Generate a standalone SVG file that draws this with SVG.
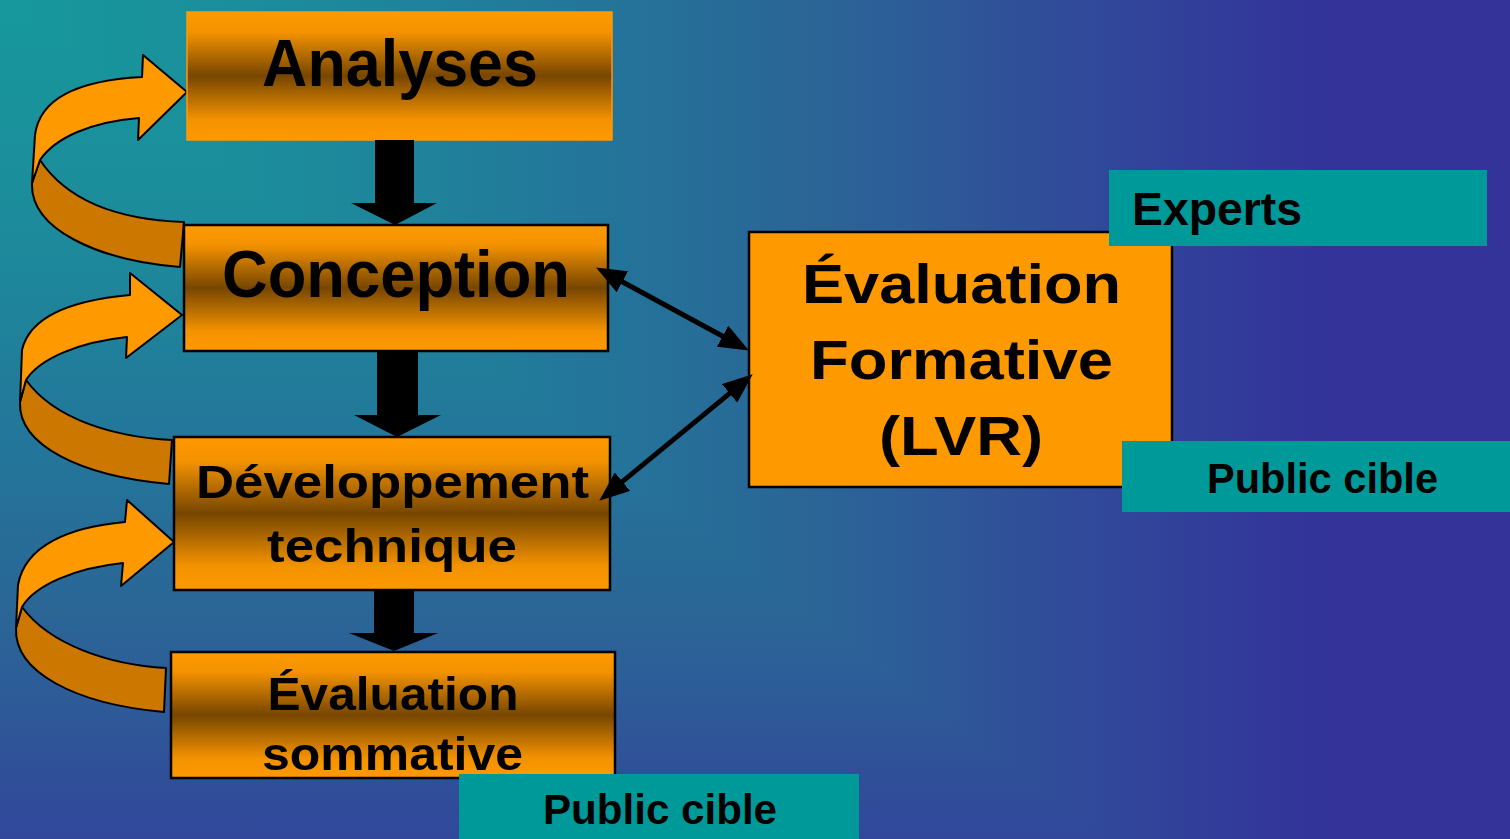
<svg xmlns="http://www.w3.org/2000/svg" width="1510" height="839" viewBox="0 0 1510 839">
  <defs>
    <linearGradient id="gx" gradientUnits="userSpaceOnUse" x1="0" y1="0" x2="1330" y2="0">
      <stop offset="0" stop-color="#16999c"/>
      <stop offset="0.25" stop-color="#1d899b"/>
      <stop offset="0.47" stop-color="#24739a"/>
      <stop offset="0.6" stop-color="#2a6696"/>
      <stop offset="0.68" stop-color="#2d5d98"/>
      <stop offset="0.75" stop-color="#2f5298"/>
      <stop offset="0.83" stop-color="#31489a"/>
      <stop offset="0.94" stop-color="#32399a"/>
      <stop offset="1" stop-color="#333399"/>
    </linearGradient>
    <linearGradient id="gy" gradientUnits="userSpaceOnUse" x1="0" y1="0" x2="0" y2="1010">
      <stop offset="0" stop-color="#16999c"/>
      <stop offset="0.25" stop-color="#1d899b"/>
      <stop offset="0.47" stop-color="#24739a"/>
      <stop offset="0.6" stop-color="#2a6696"/>
      <stop offset="0.68" stop-color="#2d5d98"/>
      <stop offset="0.75" stop-color="#2f5298"/>
      <stop offset="0.83" stop-color="#31489a"/>
      <stop offset="0.94" stop-color="#32399a"/>
      <stop offset="1" stop-color="#333399"/>
    </linearGradient>
    <linearGradient id="boxg" x1="0" y1="0" x2="0" y2="1">
      <stop offset="0" stop-color="#ff9900"/>
      <stop offset="0.16" stop-color="#f39200"/>
      <stop offset="0.5" stop-color="#774600"/>
      <stop offset="0.84" stop-color="#f39200"/>
      <stop offset="1" stop-color="#ff9900"/>
    </linearGradient>
    <marker id="ah" viewBox="0 0 30 24" markerUnits="userSpaceOnUse" markerWidth="30" markerHeight="24" refX="17" refY="12" orient="auto-start-reverse">
      <path d="M0,0 L30,12 L0,24 Z" fill="#000"/>
    </marker>
    <style>
      .box { fill: url(#boxg); stroke: #000; stroke-width: 2.5; }
      .solid { fill: #ff9900; stroke: #000; stroke-width: 2.5; }
      .tag { fill: #009999; }
      .t { font-family: "Liberation Sans", Arial, sans-serif; font-weight: bold; fill: #000; text-anchor: middle; }
      .lite { fill: #ff9900; stroke: #000; stroke-width: 2; stroke-linejoin: round; }
      .dark { fill: #cc7700; stroke: #000; stroke-width: 2; stroke-linejoin: round; }
      .link { stroke: #000; stroke-width: 5; fill: none; }
      .block { fill: #000; }
    </style>
  </defs>

  <rect x="0" y="0" width="1510" height="839" fill="url(#gx)"/>
  <polygon points="0,0 1105,839 0,839" fill="url(#gy)"/>

  <g id="loops">
    <g id="loop1">
      <path class="dark" d="M40,160 C70,205 125,220 184,222 L180,267 C95,260 30,228 32,183 Z"/>
      <path class="lite" d="M32,183 L35,135 C40,95 85,80 142,77 L143,55 L187,92 L138,140 L139,118 C90,122 55,138 40,160 Z"/>
    </g>
    <g id="loop2">
      <path class="dark" d="M26,380 C55,420 115,437 172,440 L169,484 C80,476 18,445 20,402 Z"/>
      <path class="lite" d="M20,402 L22,350 C30,315 75,300 130,295 L130,273 L182,315 L126,358 L127,337 C80,342 40,358 26,380 Z"/>
    </g>
    <g id="loop3">
      <path class="dark" d="M22,607 C50,645 110,665 166,668 L164,712 C75,704 14,672 16,628 Z"/>
      <path class="lite" d="M16,628 L18,585 C25,545 70,527 125,522 L127,500 L174,542 L121,586 L123,563 C75,568 35,585 22,607 Z"/>
    </g>
  </g>

  <g id="analyses">
    <rect x="187" y="12" width="425" height="128" fill="url(#boxg)" stroke="#ff9900" stroke-width="1.5"/>
    <text class="t" x="400" y="86" font-size="67" textLength="276" lengthAdjust="spacingAndGlyphs">Analyses</text>
  </g>

  <g id="conception">
    <rect class="box" x="184" y="225" width="424" height="126"/>
    <text class="t" x="396" y="297" font-size="66" textLength="348" lengthAdjust="spacingAndGlyphs">Conception</text>
  </g>

  <g id="developpement">
    <rect class="box" x="174" y="437" width="436" height="153"/>
    <text class="t" x="392.5" y="498" font-size="47" textLength="393" lengthAdjust="spacingAndGlyphs">Développement</text>
    <text class="t" x="392" y="562" font-size="47" textLength="250" lengthAdjust="spacingAndGlyphs">technique</text>
  </g>

  <g id="sommative">
    <rect class="box" x="171" y="652" width="444" height="126"/>
    <text class="t" x="393" y="710" font-size="47" textLength="251" lengthAdjust="spacingAndGlyphs">Évaluation</text>
    <text class="t" x="392.5" y="770" font-size="47" textLength="261" lengthAdjust="spacingAndGlyphs">sommative</text>
  </g>

  <g id="formative">
    <rect class="solid" x="749" y="232" width="423" height="255"/>
    <text class="t" x="961.5" y="303" font-size="56" textLength="319" lengthAdjust="spacingAndGlyphs">Évaluation</text>
    <text class="t" x="961.5" y="379" font-size="56" textLength="303" lengthAdjust="spacingAndGlyphs">Formative</text>
    <text class="t" x="961" y="455" font-size="56" textLength="164" lengthAdjust="spacingAndGlyphs">(LVR)</text>
  </g>

  <g id="experts">
    <rect class="tag" x="1109" y="170" width="378" height="76"/>
    <text class="t" x="1132" y="225" font-size="46" style="text-anchor:start" textLength="170" lengthAdjust="spacingAndGlyphs">Experts</text>
  </g>

  <g id="public-right">
    <rect class="tag" x="1122" y="441" width="388" height="71"/>
    <text class="t" x="1322.5" y="493" font-size="42" textLength="231" lengthAdjust="spacingAndGlyphs">Public cible</text>
  </g>

  <g id="public-bottom">
    <rect class="tag" x="459" y="774" width="400" height="65"/>
    <text class="t" x="660" y="824" font-size="42" textLength="234" lengthAdjust="spacingAndGlyphs">Public cible</text>
  </g>

  <g id="connectors">
    <path class="block" d="M375,140 L414,140 L414,203 L437,203 L395,225 L351,203 L375,203 Z"/>
    <path class="block" d="M377,351 L418,351 L418,415 L441,415 L397,437 L354,415 L377,415 Z"/>
    <path class="block" d="M374,590 L414,590 L414,633 L438,633 L394,651 L349,633 L374,633 Z"/>
    <line class="link" x1="607.5" y1="273.7" x2="737.5" y2="344.3" marker-start="url(#ah)" marker-end="url(#ah)"/>
    <line class="link" x1="609.3" y1="492.4" x2="742.7" y2="382.6" marker-start="url(#ah)" marker-end="url(#ah)"/>
  </g>
</svg>
